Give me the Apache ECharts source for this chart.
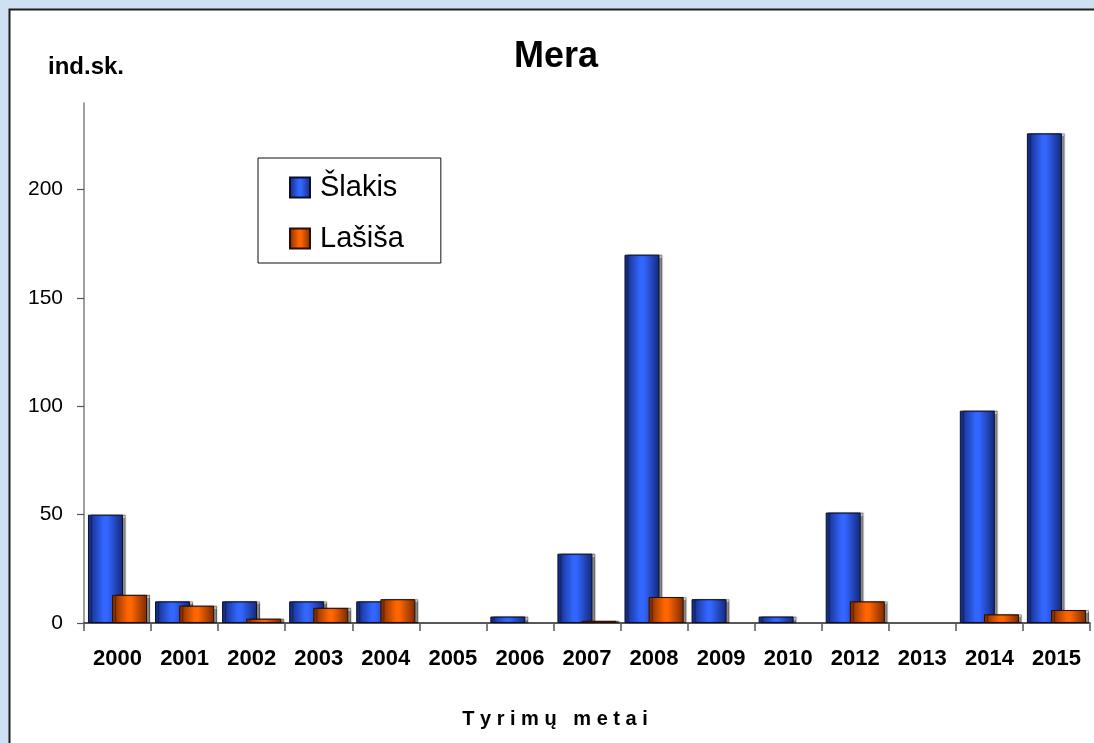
<!DOCTYPE html>
<html>
<head>
<meta charset="utf-8">
<script src="https://cdn.jsdelivr.net/npm/echarts@6/dist/echarts.min.js"></script>
<style>
html,body{margin:0;padding:0;background:#cfe0f2;}
#c{width:1094px;height:743px;}
</style>
</head>
<body>
<div id="c"></div>
<script>
const categories = ['2000','2001','2002','2003','2004','2005','2006','2007','2008','2009','2010','2012','2013','2014','2015'];
const slakis = [50, 10, 10, 10, 10, 0, 3, 32, 170, 11, 3, 51, 0, 98, 226];
const lasisa = [13, 8, 2, 7, 11, 0, 0, 1, 12, 0, 0, 10, 0, 4, 6];
const seriesNames = ['Šlakis', 'Lašiša'];
const yTicks = [0, 50, 100, 150, 200];

function grad(edge, mid) {
  return new echarts.graphic.LinearGradient(0, 0, 1, 0, [
    {offset: 0, color: edge},
    {offset: 0.45, color: mid},
    {offset: 0.55, color: mid},
    {offset: 1, color: edge}
  ]);
}
// zero counts draw no bar in the original
const noZero = arr => arr.map(v => v === 0 ? null : v);

const chart = echarts.init(document.getElementById('c'), null, {renderer: 'canvas'});
const font = '"Liberation Sans", Arial, sans-serif';
chart.setOption({
  backgroundColor: '#cfe0f2',
  animation: false,
  textStyle: {fontFamily: font},
  graphic: [
    {type: 'rect', z: -10, shape: {x: 9.5, y: 9.5, width: 1100, height: 745},
     style: {fill: '#ffffff', stroke: '#1e1e1e', lineWidth: 2}},
    {type: 'text', x: 48, y: 67, style: {text: 'ind.sk.', font: 'bold 24px ' + font, fill: '#000', verticalAlign: 'middle'}},
    {type: 'text', x: 556, y: 57, style: {text: 'Mera', font: 'bold 36px ' + font, fill: '#000', align: 'center', verticalAlign: 'middle'}},
    {type: 'text', x: 555, y: 719, style: {text: 'T y r i m ų   m e t a i', font: 'bold 20px ' + font, fill: '#000', align: 'center', verticalAlign: 'middle'}}
  ],
  legend: {
    left: 258, top: 158, orient: 'vertical',
    padding: [15, 37, 10, 31],
    itemGap: 22,
    itemWidth: 20, itemHeight: 20,
    icon: 'rect',
    borderColor: '#111', borderWidth: 1, backgroundColor: '#fff',
    textStyle: {fontSize: 29, color: '#000', fontFamily: font, padding: [0, 0, 0, 5]},
    data: seriesNames
  },
  grid: {left: 84, right: 4, top: 103, bottom: 120, containLabel: false},
  xAxis: {
    type: 'category', data: categories,
    axisLine: {lineStyle: {color: '#222', width: 1.5}},
    axisTick: {show: true, length: 8, lineStyle: {color: '#555', width: 1.5}},
    axisLabel: {fontSize: 22, fontWeight: 'bold', color: '#000', margin: 25, interval: 0}
  },
  yAxis: {
    type: 'value', min: 0, max: 240, interval: 50,
    axisLine: {show: true, lineStyle: {color: '#808080', width: 1.5}},
    axisTick: {show: true, length: 7, lineStyle: {color: '#555', width: 1.2}},
    splitLine: {show: false},
    axisLabel: {fontSize: 21, color: '#000', margin: 21, showMaxLabel: false,
      formatter: v => yTicks.includes(v) ? String(v) : ''}
  },
  series: [
    {
      name: seriesNames[0], type: 'bar', data: noZero(slakis),
      barWidth: 35, barGap: '-31%',
      itemStyle: {color: grad('#13287a', '#3366ff'), borderColor: '#0a0f2a', borderWidth: 1,
        shadowColor: 'rgba(0,0,0,0.45)', shadowOffsetX: 3, shadowOffsetY: 0, shadowBlur: 1}
    },
    {
      name: seriesNames[1], type: 'bar', data: noZero(lasisa),
      barWidth: 35,
      itemStyle: {color: grad('#7a2a00', '#ff6600'), borderColor: '#2a0e00', borderWidth: 1,
        shadowColor: 'rgba(0,0,0,0.45)', shadowOffsetX: 3, shadowOffsetY: 0, shadowBlur: 1}
    }
  ]
});
</script>
</body>
</html>
